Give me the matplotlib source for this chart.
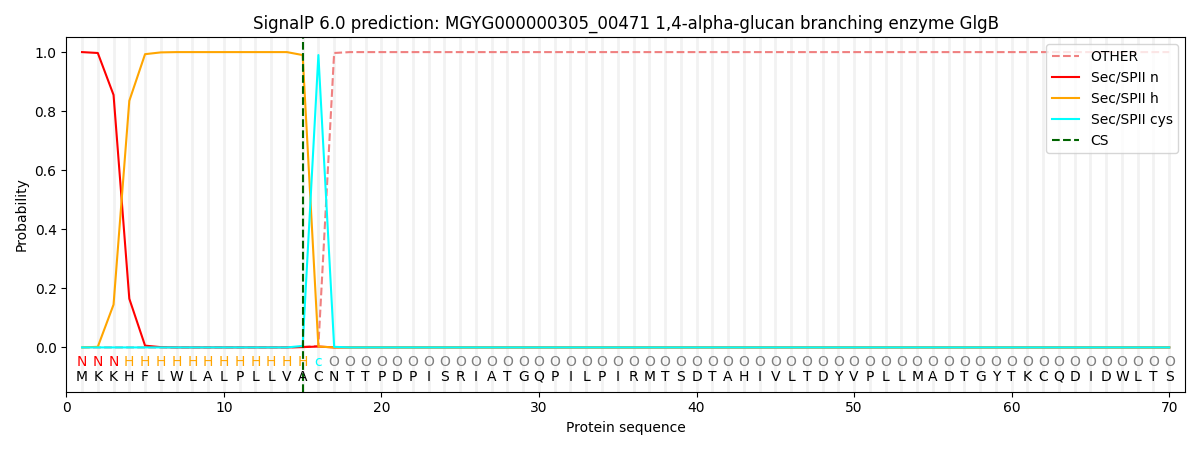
import matplotlib
matplotlib.use("Agg")
import matplotlib.pyplot as plt
import numpy as np

sequence = list("MKKHFLWLALPLLVACNTTPDPISRIATGQPILPIRMTSDTAHIVLTDYVPLLMADTGYTKCQDIDWLTS")
region_labels = list("NNNHHHHHHHHHHHHc") + ["O"] * 54

other = [0.0, 0.0, 0.0, 0.0, 0.0, 0.0, 0.0, 0.0, 0.0, 0.0, 0.0, 0.0, 0.0, 0.0, 0.002, 0.005, 0.997] + [1.0] * 53
sec_n = [1.0, 0.997, 0.855, 0.165, 0.006, 0.001] + [0.0] * 8 + [0.001, 0.003, 0.0] + [0.0] * 53
sec_h = [0.0, 0.002, 0.145, 0.835, 0.993, 0.999] + [1.0] * 8 + [0.99, 0.003, 0.0] + [0.0] * 53
sec_cys = [0.0] * 14 + [0.005, 0.99, 0.002] + [0.0] * 53
cs_pos = 15

label_colors = {"N": "red", "H": "orange", "c": "cyan", "O": "grey"}

x = np.arange(1, len(sequence) + 1)

fig, ax = plt.subplots(figsize=(12, 4.5), dpi=100)
for xi in x:
    ax.axvline(xi, color="#f2f2f2", lw=2, zorder=0)

ax.plot(x, other, color="#f08080", ls="--", lw=1.5, label="OTHER")
ax.plot(x, sec_n, color="red", lw=1.5, label="Sec/SPII n")
ax.plot(x, sec_h, color="orange", lw=1.5, label="Sec/SPII h")
ax.plot(x, sec_cys, color="cyan", lw=1.5, label="Sec/SPII cys")
ax.axvline(cs_pos, color="darkgreen", ls="--", lw=1.5, label="CS")

for xi, aa, lab in zip(x, sequence, region_labels):
    ax.text(xi, -0.05, lab, color=label_colors[lab], ha="center", va="center", fontsize=10)
    ax.text(xi, -0.1, aa, color="black", ha="center", va="center", fontsize=10)

ax.set_xlim(0, 71)
ax.set_ylim(-0.15, 1.05)
ax.set_xlabel("Protein sequence")
ax.set_ylabel("Probability")
ax.set_title("SignalP 6.0 prediction: MGYG000000305_00471 1,4-alpha-glucan branching enzyme GlgB")
ax.legend(loc="upper right")
fig.tight_layout()
fig.savefig("out.png")
